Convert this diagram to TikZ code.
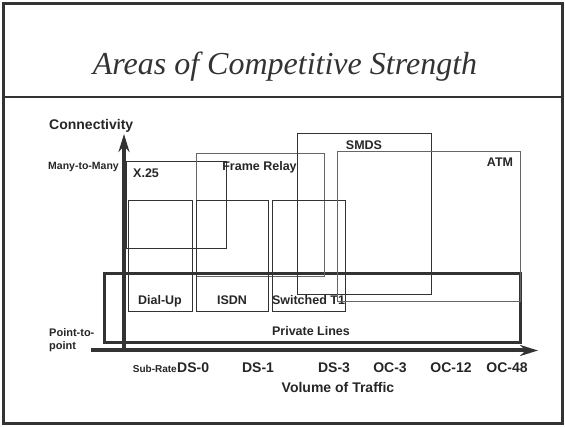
\documentclass[tikz,border=0pt]{standalone}
\usepackage{fontspec}
\setmainfont{Liberation Sans}
\newfontfamily\titlefont{Liberation Serif}
\usetikzlibrary{arrows.meta}
\definecolor{ink}{HTML}{333333}
\definecolor{txt}{HTML}{262626}
\definecolor{lightink}{HTML}{666666}
\tikzset{
  box/.style={draw=ink, line width=1pt, inner sep=0pt, anchor=north west},
  lbox/.style={draw=lightink, line width=1pt, inner sep=0pt, anchor=north west},
  thickbox/.style={draw=ink, line width=3pt, inner sep=0pt, anchor=north west},
  lbl/.style={font=\fontsize{12.5}{14}\selectfont\bfseries, text=txt, inner sep=0pt, anchor=base},
  tick/.style={font=\fontsize{14}{16}\selectfont\bfseries, text=txt, inner sep=0pt, anchor=base},
  axis/.style={draw=ink, line width=4pt, -{Stealth[length=18pt,width=11pt]}}
}
\begin{document}
\begin{tikzpicture}[x=1pt,y=-1pt]
\useasboundingbox (0,0) rectangle (565,427);
% frame
\draw[ink, line width=3pt] (3.5,3.5) rectangle (562,424);
\coordinate (sepL) at (3.5,97);
\coordinate (sepR) at (562,97);
\draw[ink, line width=1.2pt] (sepL) -- (sepR);
\node[font=\titlefont\itshape\fontsize{32}{36}\selectfont, text=ink, anchor=base, inner sep=0pt] (title) at (285,75) {Areas of Competitive Strength};

% boxes
\node[thickbox, minimum width=416pt, minimum height=69pt] (pl) at (103,272) {};
\node[lbl] (pllbl) at (311,335.5) {Private Lines};

\node[box, minimum width=100pt, minimum height=87pt] (x25) at (126,161) {};
\node[lbl, anchor=base west] (x25lbl) at (133,177.5) {X.25};

\node[lbox, minimum width=128pt, minimum height=123pt] (fr) at (196,153) {};
\node[lbl] (frlbl) at (259.5,170.5) {Frame Relay};

\node[box, minimum width=64pt, minimum height=111pt] (dial) at (128,200) {};
\node[lbl] (diallbl) at (160,305) {Dial-Up};

\node[box, minimum width=72pt, minimum height=111pt] (isdn) at (196,200) {};
\node[lbl] (isdnlbl) at (232,305) {ISDN};

\node[box, minimum width=73pt, minimum height=111pt] (st1) at (272,200) {};
\node[lbl] (st1lbl) at (308.5,305) {Switched T1};

\node[box, minimum width=134pt, minimum height=161pt] (smds) at (297,133) {};
\node[lbl] (smdslbl) at (364,149.5) {SMDS};

\node[lbox, minimum width=183pt, minimum height=150pt] (atm) at (337,151) {};
\node[lbl] (atmlbl) at (500,166.5) {ATM};

% axes
\coordinate (vbot) at (124,350.5);
\coordinate (vtop) at (124,134);
\coordinate (hleft) at (91,350.5);
\coordinate (hright) at (538,350.5);
\draw[axis] (vbot) -- (vtop);
\draw[axis] (hleft) -- (hright);

% axis labels
\node[font=\fontsize{14}{16}\selectfont\bfseries, text=txt, anchor=west, inner sep=0pt] (conn) at (49,126) {Connectivity};
\node[font=\fontsize{10.5}{12}\selectfont\bfseries, text=txt, anchor=west, inner sep=0pt] (m2m) at (48,167) {Many-to-Many};
\node[font=\fontsize{11}{13}\selectfont\bfseries, text=txt, anchor=west, align=left, inner sep=0pt] (p2p) at (49,340) {Point-to-\\point};

\node[font=\fontsize{10}{12}\selectfont\bfseries, text=txt, anchor=base east, inner sep=0pt] (subrate) at (177,373) {Sub-Rate};
\node[tick, anchor=base west] (ds0) at (177,373) {DS-0};
\node[tick] (ds1) at (258,373) {DS-1};
\node[tick] (ds3) at (334,373) {DS-3};
\node[tick] (oc3) at (390,373) {OC-3};
\node[tick] (oc12) at (451,373) {OC-12};
\node[tick] (oc48) at (507,373) {OC-48};
\node[tick] (vol) at (338,393) {Volume of Traffic};
\end{tikzpicture}
\end{document}
